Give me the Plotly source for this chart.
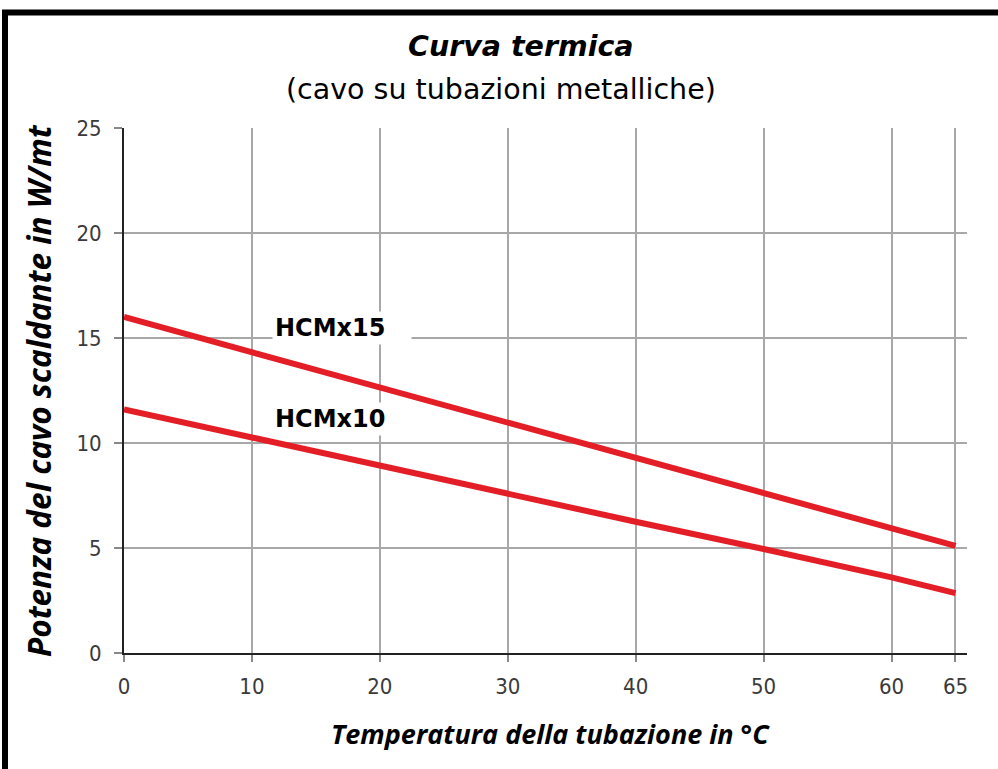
import plotly.graph_objects as go

# ---- data ----
temperature = [0, 10, 20, 30, 40, 50, 60, 65]
hcmx15 = [16.0, 14.33, 12.67, 10.98, 9.33, 7.67, 6.0, 5.1]
hcmx10 = [11.6, 10.25, 8.95, 7.6, 6.25, 4.95, 3.6, 2.85]
x_ticks = [0, 10, 20, 30, 40, 50, 60, 65]
y_ticks = [0, 5, 10, 15, 20, 25]
series_names = ["HCMx15", "HCMx10"]
label_pos = [(11.6, 15.5), (11.6, 11.15)]

RED = "#e31e26"
W, H = 998, 769
L, R, T, B = 124, 31, 128, 116
pw, ph = W - L - R, H - T - B

def px(xp):
    return (xp - L) / pw

def py(yp):
    return (H - B - yp) / ph

fig = go.Figure()
for name, ys in zip(series_names, [hcmx15, hcmx10]):
    fig.add_trace(go.Scatter(x=temperature, y=ys, mode="lines", name=name,
                             line=dict(color=RED, width=6), showlegend=False,
                             hoverinfo="skip"))

for name, (lx, ly) in zip(series_names, label_pos):
    fig.add_annotation(x=lx, y=ly, xref="x", yref="y", text="<b>" + name + "</b>",
                       showarrow=False, xanchor="left", yanchor="middle",
                       align="left", width=134, bgcolor="white", borderpad=2,
                       font=dict(family="DejaVu Sans", size=24, color="black"))

fig.add_annotation(x=px(521), y=py(47), xref="paper", yref="paper",
                   text="<b><i>Curva termica</i></b>", showarrow=False,
                   xanchor="center", yanchor="middle",
                   font=dict(family="DejaVu Sans", size=28.5, color="black"))
fig.add_annotation(x=px(501), y=py(89), xref="paper", yref="paper",
                   text="(cavo su tubazioni metalliche)", showarrow=False,
                   xanchor="center", yanchor="middle",
                   font=dict(family="DejaVu Sans", size=28.5, color="black"))
fig.add_annotation(x=px(550), y=py(733), xref="paper", yref="paper",
                   text="<b><i>Temperatura della tubazione in °C</i></b>", showarrow=False,
                   xanchor="center", yanchor="middle",
                   font=dict(family="Open Sans", size=27, color="black"))
fig.add_annotation(x=px(38), y=py(391), xref="paper", yref="paper",
                   text="<b><i>Potenza del cavo scaldante in W/mt</i></b>", showarrow=False,
                   textangle=-90, xanchor="center", yanchor="middle",
                   font=dict(family="Open Sans", size=31.5, color="black"))

# frame (top and left edges visible)
fig.add_shape(type="rect", xref="paper", yref="paper",
              x0=px(5), y0=py(12.5), x1=px(1020), y1=py(790),
              line=dict(color="black", width=6), fillcolor="rgba(0,0,0,0)", layer="above")

tickfont = dict(family="DejaVu Sans Condensed, DejaVu Sans", size=22, color="#3a3a3a")
fig.update_xaxes(range=[0, 65.9], tickvals=x_ticks, ticktext=[str(v) for v in x_ticks],
                 showgrid=True, gridcolor="#a8a8a8", gridwidth=1.5,
                 showline=True, linecolor="#222", linewidth=2,
                 ticks="outside", ticklen=7, tickcolor="#888", tickwidth=1.5,
                 ticklabelstandoff=6,
                 tickfont=tickfont, zeroline=False, fixedrange=True)
fig.update_yaxes(range=[0, 25], tickvals=y_ticks, ticktext=[str(v) for v in y_ticks],
                 showgrid=True, gridcolor="#a8a8a8", gridwidth=1.5,
                 showline=True, linecolor="#222", linewidth=2,
                 ticks="outside", ticklen=8, tickcolor="#888", tickwidth=1.5,
                 ticklabelstandoff=8,
                 tickfont=tickfont, zeroline=False, fixedrange=True)

fig.update_layout(width=W, height=H, margin=dict(l=L, r=R, t=T, b=B),
                  paper_bgcolor="white", plot_bgcolor="white")

fig.write_html("out.html", config={"displayModeBar": False},
               post_script="document.body.style.margin='0';document.body.style.overflow='hidden';")
